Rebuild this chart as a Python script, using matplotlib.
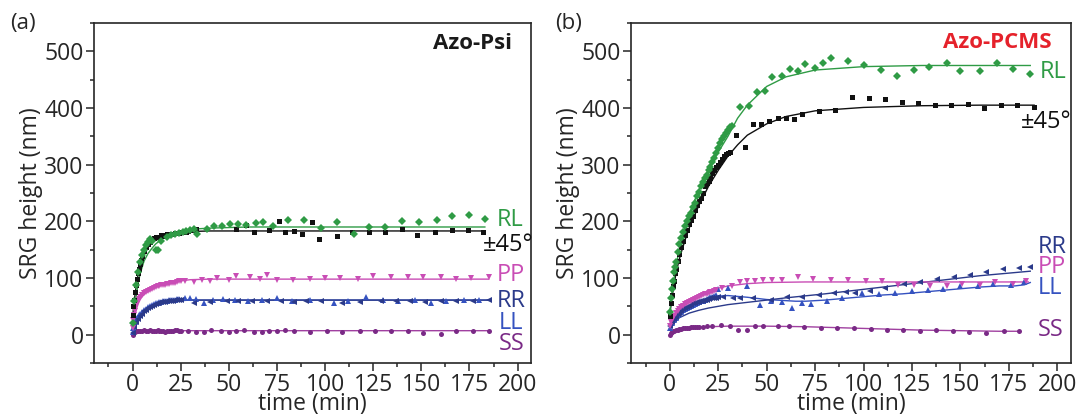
import matplotlib
matplotlib.use("Agg")
import matplotlib.pyplot as plt
from matplotlib.ticker import MultipleLocator

plt.rcParams['font.family'] = ['Open Sans', 'DejaVu Sans']

# ---------------- Azo-Psi (panel a) ----------------
a_rl_t = [0, 1, 2, 3, 4, 5, 6, 7, 8, 9, 10, 12, 13, 15, 18, 20, 22, 24, 26, 28, 30, 32, 33.6,
          38.6, 42.5, 46.7, 50.6, 55, 59, 64, 68, 73, 81, 89, 98, 106, 115, 123, 131, 140, 149,
          158, 166, 175, 183]
a_rl_v = [20, 60, 88, 110, 128, 140, 150, 158, 163, 168, 165, 150, 149, 165, 172, 176, 178, 180, 182, 183, 184, 186, 178,
          186, 191, 192, 195, 196, 193, 197, 198, 191, 203, 203, 188, 199, 177, 190, 190, 201, 199,
          203, 210, 212, 204]
a_rl_fit_t = [0, 1, 2, 3, 4, 6, 8, 10, 12, 15, 20, 25, 30, 35, 40, 50, 60, 80, 100, 130, 160, 183]
a_rl_fit_v = [5, 40, 70, 92, 108, 130, 143, 152, 160, 168, 177, 182, 185, 187, 188, 189, 190, 190, 190, 190, 190, 190]

a_45_t = [0, 0.5, 1, 1.5, 2, 2.5, 3, 3.5, 4, 4.5, 5, 6, 7, 8, 9, 10, 11, 12, 13, 14, 15, 16, 17, 18, 19,
          20, 21, 22, 23, 24, 25, 26, 27, 28, 29, 30, 31, 32, 33,
          54, 59, 63, 71, 76, 79, 84, 88, 93, 97, 106, 114, 123, 131, 140, 148, 157, 166, 174, 182]
a_45_v = [35, 50, 62, 75, 88, 98, 108, 116, 124, 132, 138, 148, 155, 160, 164, 168, 170, 172, 172, 173, 175, 174, 176, 177, 177,
          178, 178, 179, 180, 180, 181, 181, 182, 182, 183, 184, 184, 185, 187,
          186, 194, 182, 185, 200, 182, 183, 178, 198, 169, 174, 182, 181, 182, 186, 175, 181, 185, 185, 182]
a_45_fit_t = [0, 1, 2, 3, 4, 5, 6, 8, 10, 12, 15, 20, 25, 30, 40, 60, 100, 140, 183]
a_45_fit_v = [30, 62, 88, 108, 124, 137, 147, 160, 167, 171, 175, 178, 180, 182, 183, 183, 183, 183, 183]

a_pp_t = [0, 0.5, 1, 1.5, 2, 2.5, 3, 3.5, 4, 5, 6, 7, 8, 9, 10, 11, 12, 13, 14, 15, 16, 17, 18, 19, 20,
          21, 22, 23, 24, 25,
          27, 32, 36, 40, 44, 50, 54, 61, 66, 70, 75, 83.5, 92, 100, 108, 117, 125, 134, 143, 151,
          160, 168, 176, 185]
a_pp_v = [12, 25, 35, 42, 50, 55, 60, 63, 66, 70, 73, 75, 77, 79, 80, 82, 84, 85, 86, 87, 88, 88, 89, 90, 91,
          92, 92, 93, 94, 95,
          95, 93, 96, 95, 100, 97, 103, 102, 99, 105, 96, 96, 99, 100, 100, 99, 104, 102, 102, 102,
          102, 99, 100, 102]
a_pp_fit_t = [0, 1, 2, 3, 4, 5, 7, 10, 13, 16, 20, 25, 30, 40, 60, 100, 185]
a_pp_fit_v = [0, 30, 45, 55, 62, 67, 74, 80, 85, 89, 92, 95, 97, 98, 98, 98, 98]

a_rr_t = [0, 1, 2, 3, 4, 5, 6, 7, 8, 9, 10, 11, 12, 13, 14, 15, 16, 17, 18, 19, 20, 21, 22, 23, 24, 25,
          32, 40, 49, 55, 62, 70, 77, 84, 90, 98, 109, 118, 129, 137, 144, 152, 160, 168, 177, 185]
a_rr_v = [3, 14, 22, 28, 33, 37, 41, 44, 47, 49, 51, 53, 54, 55, 56, 57, 58, 58, 59, 59, 60, 60, 61, 61, 62, 62,
          56, 58, 60, 60, 59, 59, 60, 58, 60, 59, 56, 58, 59, 60, 60, 58, 60, 60, 60, 61]
a_rr_fit_t = [0, 1, 2, 3, 5, 7, 10, 13, 16, 20, 25, 30, 40, 60, 100, 185]
a_rr_fit_v = [0, 15, 23, 29, 38, 44, 50, 54, 57, 59, 60, 61, 61, 61, 61, 61]

a_ll_t = [0, 0.5, 1, 1.5, 2, 2.5, 3, 3.5, 4, 5, 6, 7, 8, 9, 10, 11, 12, 13, 14, 15, 16, 17, 18, 19, 20,
          21, 22, 23, 24,
          27, 30, 33, 37, 42, 47, 53, 60, 67, 75, 83, 92, 104.5, 112, 121.5, 130, 138, 146.7, 155,
          163, 172, 180]
a_ll_v = [5, 12, 18, 22, 26, 29, 32, 34, 36, 40, 43, 46, 48, 50, 52, 54, 55, 56, 57, 58, 59, 60, 60, 61, 61,
          62, 62, 63, 63,
          64, 65, 63, 55, 62, 63, 61, 60, 62, 65, 60, 61, 55, 60, 67, 61, 60, 62, 56,
          60, 62, 61]
a_ll_fit_t = [0, 1, 2, 3, 5, 7, 10, 13, 16, 20, 25, 30, 40, 60, 100, 185]
a_ll_fit_v = [0, 18, 26, 32, 40, 46, 52, 56, 58, 60, 61, 61, 61, 61, 61, 61]

a_ss_t = [0, 0.5, 1, 1.5, 2, 3, 4, 5, 6, 7, 8, 9, 10, 11, 12, 13, 14, 15, 16, 17, 18, 19, 20, 21, 22, 23,
          24, 25,
          29, 33, 37, 41, 46, 50, 54, 58, 63, 67, 71, 75, 79, 84, 92, 101, 109, 118, 126, 134, 143,
          151, 160, 168, 177, 185]
a_ss_v = [0, 2, 4, 5, 6, 6, 7, 7, 8, 7, 7, 8, 6, 7, 7, 8, 7, 6, 6, 5, 6, 6, 7, 6, 8, 9,
          7, 6,
          6, 5, 4, 8, 6, 5, 7, 8, 5, 5, 6, 7, 8, 6, 5, 6, 4, 6, 7, 6, 6,
          3, 2, 7, 7, 7]
a_ss_fit_t = [0, 1, 2, 4, 6, 10, 20, 50, 100, 185]
a_ss_fit_v = [0, 3, 5, 6, 6, 7, 7, 7, 7, 7]

# ---------------- Azo-PCMS (panel b) ----------------
b_rl_t = [0, 0.5, 1, 1.5, 2, 2.5, 3, 4, 5, 6, 7, 8, 9, 10, 11, 12, 13, 14, 15, 16, 17, 18, 19, 20,
          21, 22, 23, 24, 25, 26, 27, 28, 29, 30, 31, 32,
          36, 41, 45, 49, 53, 58, 62, 66, 70, 75, 79, 83, 92, 100, 109, 117, 126, 134, 143, 150,
          160, 169, 177, 186]
b_rl_v = [40, 65, 80, 95, 110, 120, 128, 145, 160, 170, 182, 192, 200, 210, 215, 225, 232, 245, 252, 262, 270, 276, 282, 290,
          296, 305, 312, 320, 330, 338, 345, 350, 355, 362, 366, 368,
          401, 403, 429, 430, 454, 456, 469, 466, 478, 470, 479, 488, 483, 475, 467, 456, 467, 473, 480, 466,
          465, 480, 469, 460]
b_rl_fit_t = [0, 1, 2, 3, 4, 5, 6, 8, 10, 12, 15, 20, 25, 30, 35, 40, 50, 60, 75, 100, 130, 160, 186]
b_rl_fit_v = [40, 70, 95, 115, 135, 152, 167, 192, 212, 230, 255, 292, 322, 350, 382, 405, 438, 455, 467, 473, 475, 475, 475]

b_45_t = [0, 0.5, 1, 1.5, 2, 2.5, 3, 4, 5, 6, 7, 8, 9, 10, 11, 12, 13, 14, 15, 16, 17, 18, 19, 20,
          21, 22, 23, 24, 25, 26, 27, 28, 29, 30, 31,
          34, 38.6, 43, 47, 51, 56, 60, 64, 68, 77, 85, 94, 103, 111, 120, 128, 137, 145, 154, 162,
          171, 179, 188]
b_45_v = [33, 55, 70, 85, 95, 108, 115, 130, 142, 155, 165, 175, 185, 195, 202, 210, 220, 228, 235, 242, 250, 262, 268, 272,
          276, 285, 290, 296, 300, 304, 310, 315, 318, 320, 322,
          352, 332, 372, 371, 377, 383, 383, 381, 389, 395, 397, 420, 417, 415, 411, 409, 406, 405, 407, 400,
          405, 406, 402]
b_45_fit_t = [0, 1, 2, 3, 4, 5, 6, 8, 10, 12, 15, 20, 25, 30, 35, 40, 50, 60, 75, 100, 130, 160, 188]
b_45_fit_v = [35, 62, 85, 104, 120, 134, 146, 168, 188, 204, 228, 262, 290, 315, 335, 352, 372, 385, 395, 401, 404, 405, 405]

b_pp_t = [0, 0.5, 1, 1.5, 2, 3, 4, 5, 6, 7, 8, 9, 10, 11, 12, 13, 14, 15, 16, 17, 18, 19, 20, 21, 22,
          23, 24,
          26.7, 32, 36, 40, 44, 48, 53, 58, 66, 74, 83, 92, 101, 109.5, 118, 126, 134.5, 143, 151,
          160, 168, 177, 184]
b_pp_v = [15, 22, 27, 30, 33, 38, 42, 45, 48, 51, 54, 56, 58, 60, 62, 63, 65, 67, 68, 70, 71, 72, 74, 75, 76,
          77, 78,
          83, 86, 93, 94, 95, 97, 97, 97, 101, 98, 97, 96, 95, 95, 88, 88, 86, 86, 90,
          88, 93, 89, 95]
b_pp_fit_t = [0, 1, 2, 4, 6, 8, 10, 13, 16, 20, 25, 30, 40, 50, 70, 100, 140, 185]
b_pp_fit_v = [15, 24, 30, 39, 46, 52, 57, 64, 70, 76, 82, 86, 90, 92, 93, 93, 93, 93]

b_rr_t = [0, 1, 2, 3, 4, 5, 6, 7, 8, 9, 10, 11, 12, 13, 14, 15, 16, 17, 18, 19, 20, 21, 22, 23, 24, 25,
          27.7, 32.5, 36, 43, 52, 60.6, 68, 77, 84.7, 90.7, 95.8, 103.5, 111, 120.7, 129.3, 137.9,
          146.5, 155, 163, 172, 180, 186]
b_rr_v = [15, 22, 28, 32, 36, 39, 42, 45, 47, 49, 51, 53, 55, 56, 57, 58, 59, 60, 61, 62, 63, 64, 64, 65, 65, 66,
          67, 64, 64, 65, 62, 67, 67, 70, 73, 76, 73, 77, 82, 89, 93, 99,
          102, 105, 111, 115, 117, 120]
b_rr_fit_t = [0, 2, 5, 10, 15, 20, 30, 40, 50, 60, 80, 100, 120, 140, 160, 186]
b_rr_fit_v = [10, 20, 30, 38, 43, 47, 53, 57, 61, 65, 72, 80, 88, 96, 104, 112]

b_ll_t = [0, 1, 2, 3, 4, 5, 6, 7, 8, 9, 10, 11, 12, 13, 14, 15, 16, 17, 18, 19, 20, 21, 22, 23, 24,
          25, 30, 40, 46.7, 52, 58, 63, 68, 73, 81, 89, 99, 108, 116, 125, 133, 141, 150, 159, 167,
          176, 183]
b_ll_v = [12, 20, 25, 30, 34, 37, 40, 43, 45, 47, 49, 51, 53, 54, 56, 57, 59, 60, 62, 63, 64, 66, 67, 69, 70,
          80, 82, 85, 53, 60, 58, 47, 56, 54, 59, 64, 73, 71, 73, 77, 79, 80, 86, 86, 89,
          88, 93]
b_ll_fit_t = [0, 2, 5, 10, 15, 20, 25, 30, 40, 50, 60, 65, 70, 80, 90, 100, 110, 120, 130, 140, 150, 160, 170, 178,
              183, 186]
b_ll_fit_v = [12, 25, 38, 50, 58, 64, 68, 69, 66, 62, 60, 59, 59, 61, 64, 67, 70, 72, 75, 78, 81, 84, 86, 86,
              88, 92]

b_ss_t = [0, 0.5, 1, 1.5, 2, 3, 4, 5, 6, 7, 8, 9, 10, 11, 12, 13, 14, 15, 17, 19,
          22, 26.5, 31, 35.4, 40, 44, 48, 56, 61.7, 69.4, 77.8, 86.4, 95.3, 104, 112.3, 120.4, 129,
          137.4, 146.3, 154.4, 163, 172.3, 180.3]
b_ss_v = [0, 3, 5, 6, 7, 8, 9, 10, 10, 11, 11, 12, 12, 13, 13, 13, 14, 14, 14, 15,
          15, 16.5, 15, 8, 8, 16, 16, 15, 15, 14, 12, 11, 11, 10, 9, 8, 7,
          8, 6.5, 5, 3.5, 6, 6]
b_ss_fit_t = [0, 1, 2, 4, 7, 10, 15, 20, 30, 50, 70, 90, 110, 130, 150, 170, 180]
b_ss_fit_v = [0, 5, 7, 9, 11, 12, 13, 14, 15, 15, 14, 12, 10, 8, 7, 6, 6]

# colours
C_RL = '#2f9b45'
C_45 = '#111111'
C_PP = '#c94db5'
C_RR = '#2b3a8a'
C_LL = '#3552c0'
C_SS = '#7a2a86'
TXT = '#262626'

fig = plt.figure(figsize=(10.77, 4.18), dpi=100)
ax_a = fig.add_axes([0.0873, 0.1316, 0.4058, 0.8134])
ax_b = fig.add_axes([0.5859, 0.1316, 0.4085, 0.8134])


def series(ax, t, v, ft, fv, color, marker, ms=4.0, lcolor=None):
    ax.plot(ft, fv, '-', color=lcolor or color, lw=1.0, zorder=2)
    ax.plot(t, v, linestyle='none', marker=marker, color=color, ms=ms,
            markeredgewidth=0, zorder=3)


def style(ax):
    ax.set_xlim(-20, 207)
    ax.set_ylim(-50, 550)
    ax.xaxis.set_major_locator(MultipleLocator(25))
    ax.xaxis.set_minor_locator(MultipleLocator(12.5))
    ax.yaxis.set_major_locator(MultipleLocator(100))
    ax.yaxis.set_minor_locator(MultipleLocator(50))
    ax.set_yticks([0, 100, 200, 300, 400, 500])
    ax.tick_params(which='major', direction='out', length=5.5, width=1.1,
                   labelsize=16.5, colors=TXT, pad=2)
    ax.tick_params(which='minor', direction='out', length=3, width=1.1, colors=TXT)
    for s in ax.spines.values():
        s.set_linewidth(1.2)
        s.set_color(TXT)
    ax.set_xlabel('time (min)', fontsize=16.5, color=TXT, labelpad=-4)
    ax.set_ylabel('SRG height (nm)', fontsize=16.5, color=TXT, labelpad=1)


# panel a
series(ax_a, a_ss_t, a_ss_v, a_ss_fit_t, a_ss_fit_v, C_SS, 'o', ms=3.6, lcolor='#a040a0')
series(ax_a, a_ll_t, a_ll_v, a_ll_fit_t, a_ll_fit_v, C_LL, '^')
series(ax_a, a_rr_t, a_rr_v, a_rr_fit_t, a_rr_fit_v, C_RR, '<')
series(ax_a, a_pp_t, a_pp_v, a_pp_fit_t, a_pp_fit_v, C_PP, 'v')
series(ax_a, a_45_t, a_45_v, a_45_fit_t, a_45_fit_v, C_45, 's', ms=3.6)
series(ax_a, a_rl_t, a_rl_v, a_rl_fit_t, a_rl_fit_v, C_RL, 'D', ms=3.6)
style(ax_a)

lab = dict(fontsize=17, va='center', ha='left')
ax_a.text(189, 203, 'RL', color=C_RL, **lab)
ax_a.text(182, 158, '±45°', color=C_45, **lab)
ax_a.text(189, 105, 'PP', color=C_PP, **lab)
ax_a.text(189, 60, 'RR', color=C_RR, **lab)
ax_a.text(190, 21, 'LL', color=C_LL, **lab)
ax_a.text(190, -17, 'SS', color=C_SS, **lab)
ax_a.text(197, 513, 'Azo-Psi', color='#1a1a1a', fontsize=16, fontweight='bold',
          ha='right', va='center')

# panel b
series(ax_b, b_ss_t, b_ss_v, b_ss_fit_t, b_ss_fit_v, C_SS, 'o', ms=3.6, lcolor='#a040a0')
series(ax_b, b_ll_t, b_ll_v, b_ll_fit_t, b_ll_fit_v, C_LL, '^')
series(ax_b, b_rr_t, b_rr_v, b_rr_fit_t, b_rr_fit_v, C_RR, '<')
series(ax_b, b_pp_t, b_pp_v, b_pp_fit_t, b_pp_fit_v, C_PP, 'v')
series(ax_b, b_45_t, b_45_v, b_45_fit_t, b_45_fit_v, C_45, 's', ms=3.6)
series(ax_b, b_rl_t, b_rl_v, b_rl_fit_t, b_rl_fit_v, C_RL, 'D', ms=3.6)
style(ax_b)

ax_b.text(191, 463, 'RL', color=C_RL, **lab)
ax_b.text(181, 376, '±45°', color=C_45, **lab)
ax_b.text(190, 154, 'RR', color=C_RR, **lab)
ax_b.text(190, 120, 'PP', color=C_PP, **lab)
ax_b.text(190, 83, 'LL', color=C_LL, **lab)
ax_b.text(190, 8, 'SS', color=C_SS, **lab)
ax_b.text(197, 516, 'Azo-PCMS', color='#e5222b', fontsize=16, fontweight='bold',
          ha='right', va='center')

fig.text(10 / 1077, 1 - 24 / 418, '(a)', fontsize=16, color=TXT, va='center', ha='left')
fig.text(555 / 1077, 1 - 24 / 418, '(b)', fontsize=16, color=TXT, va='center', ha='left')

fig.savefig('out.png', dpi=100)
